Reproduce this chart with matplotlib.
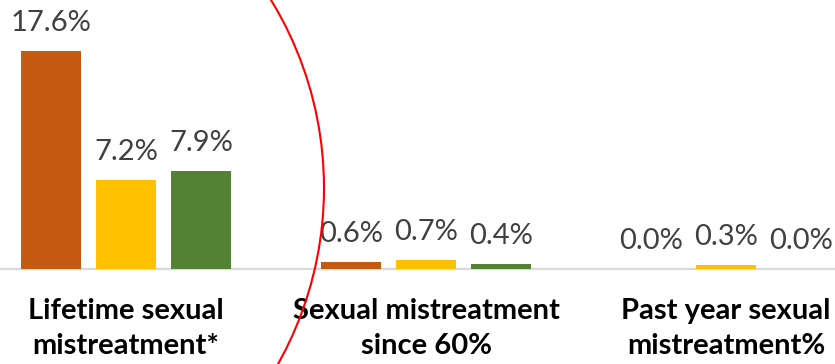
import matplotlib.pyplot as plt
from matplotlib.patches import Ellipse
import numpy as np

categories = ["Lifetime sexual\nmistreatment*", "Sexual mistreatment\nsince 60%", "Past year sexual\nmistreatment%"]
series_a = [17.6, 0.6, 0.0]
series_b = [7.2, 0.7, 0.3]
series_c = [7.9, 0.4, 0.0]
colors = ["#C55A11", "#FFC000", "#548235"]

fig = plt.figure(figsize=(8.35, 3.64), dpi=100)
ax = fig.add_axes([0, 0, 1, 1])

x = np.arange(len(categories))
width = 0.2
offsets = [-0.25, 0, 0.25]
for vals, col, off in zip([series_a, series_b, series_c], colors, offsets):
    bars = ax.bar(x + off, vals, width, color=col, zorder=2)
    for b, v in zip(bars, vals):
        ax.annotate(f"{v:.1f}%", (b.get_x() + b.get_width() / 2, v),
                    xytext=(0, 20), textcoords="offset pixels",
                    ha="center", va="baseline", fontsize=21,
                    family="Lato", color="#404040")

ax.axhline(0, color="#D9D9D9", lw=1.6, zorder=1)

for xi, cat in zip(x, categories):
    lines = cat.split("\n")
    for k, line in enumerate(lines):
        ax.annotate(line, (xi, 0), xytext=(0, -50 - 35 * k), textcoords="offset pixels",
                    ha="center", va="baseline", fontsize=21, fontweight="bold",
                    family="Lato", color="black")

ax.set_xlim(-0.42, 2.3633)
ax.set_ylim(-7.667, 21.71)
ax.axis("off")

# red circle around first group (only its right side shows)
ell = Ellipse((-36 / 835, 1 - 188 / 364), 720 / 835, 720 / 364,
              transform=fig.transFigure, fill=False, edgecolor="red", lw=1.5, zorder=5)
fig.patches.append(ell)

fig.savefig("out.png", dpi=100)
